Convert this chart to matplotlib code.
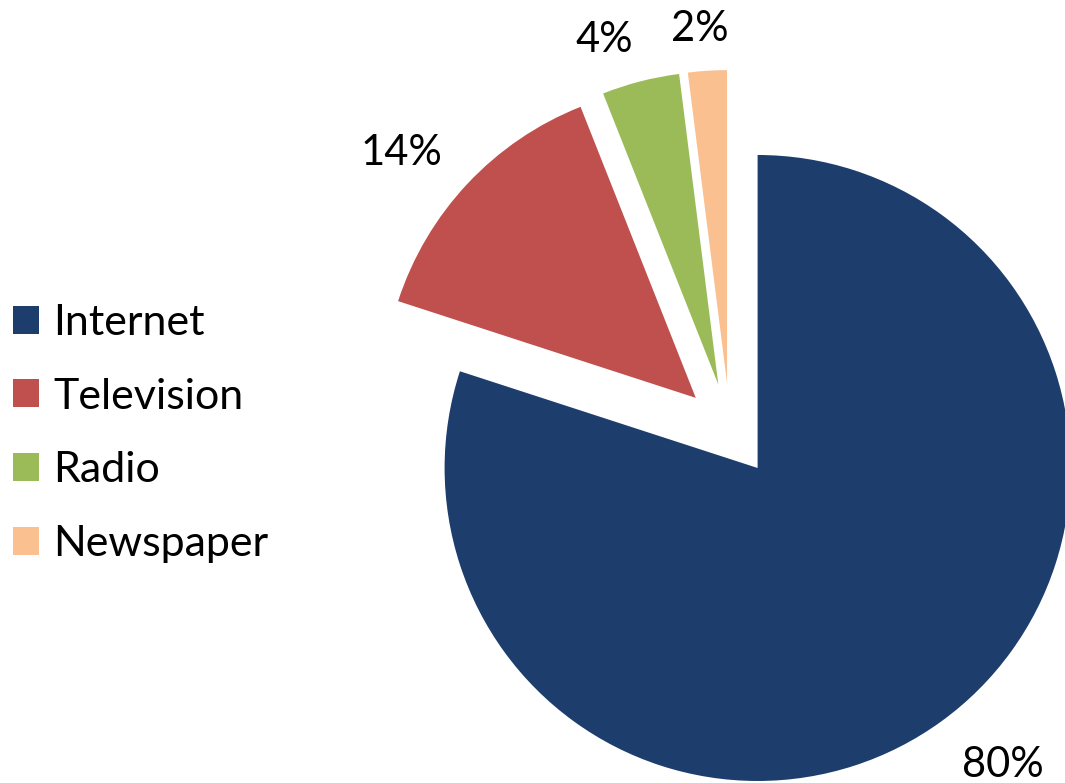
import matplotlib
matplotlib.use("Agg")
import matplotlib.pyplot as plt
import numpy as np

# media share data
media = ["Internet", "Television", "Radio", "Newspaper"]
share = [80, 14, 4, 2]
colors = ["#1D3E6C", "#C0504D", "#9BBB59", "#FAC090"]

# label placement: distance from each wedge tip (in radii) and angle nudge (deg)
label_dist = [1.23, 1.223, 1.159, 1.134]
label_nudge = [3.5, 3.4, 3.9, 0.8]

plt.rcParams['font.family'] = ['Lato', 'DejaVu Sans']

fig = plt.figure(figsize=(10.65, 7.83), dpi=100)
ax = fig.add_axes([0, 0, 1, 1])

# work in pixel-like data units so the layout is easy to reason about
radius = 313
center = (730, 353)
gap = 0.15 * radius  # explode offset is in data units, not radius fractions
wedges, _ = ax.pie(share, colors=colors, startangle=90, counterclock=False,
                   radius=radius, center=center, explode=[gap] * 4,
                   wedgeprops=dict(linewidth=0))

for w, val, dist, nudge in zip(wedges, share, label_dist, label_nudge):
    mid = np.deg2rad((w.theta1 + w.theta2) / 2 + nudge)
    cx, cy = w.center
    ax.text(cx + dist * radius * np.cos(mid), cy + dist * radius * np.sin(mid),
            "%d%%" % val, ha="center", va="center", fontsize=30)

ax.legend(wedges, media, loc="upper left", bbox_to_anchor=(0.012, 0.612),
          frameon=False, fontsize=31, handlelength=0.62, handleheight=0.62,
          handletextpad=0.32, labelspacing=0.83, borderaxespad=0, borderpad=0)

ax.set_xlim(0, 1065)
ax.set_ylim(0, 783)
ax.set_aspect("equal")
ax.axis("off")

fig.savefig("out.png", dpi=100)
